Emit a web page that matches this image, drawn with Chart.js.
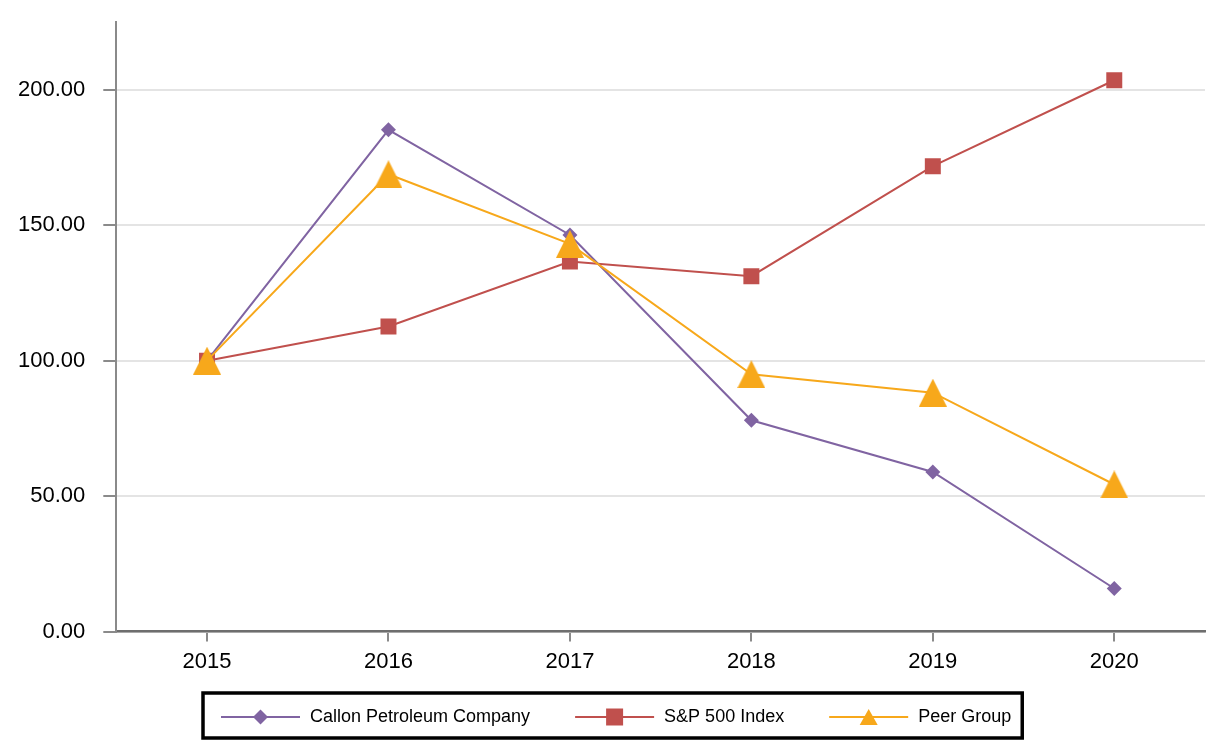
<!DOCTYPE html>
<html><head><meta charset="utf-8">
<script src="https://cdn.jsdelivr.net/npm/chart.js@4.4.0/dist/chart.umd.min.js"></script>
<style>html,body{margin:0;padding:0;background:#fff}#wrap{width:1226px;height:756px}</style>
</head><body><div id="wrap"><canvas id="c" width="1226" height="756"></canvas></div>
<script>
// ---- data ----
const years = ['2015', '2016', '2017', '2018', '2019', '2020'];
const callon = [100, 185.2, 146.4, 78.0, 58.9, 15.9];
const sp500 = [100, 112.6, 136.6, 131.2, 171.8, 203.5];
const peer = [100, 168.8, 143.1, 95.0, 88.2, 54.3];
const seriesNames = ['Callon Petroleum Company', 'S&P 500 Index', 'Peer Group'];
const yMin = 0, yMax = 225, yStep = 50;

// ---- styles ----
const FONT = '"Liberation Sans", Arial, Helvetica, sans-serif';
const colors = ['#8064A2', '#C0504D', '#F7A81B'];

function triangleImage(w, h, color) {
  const cv = document.createElement('canvas');
  cv.width = w; cv.height = h;
  const g = cv.getContext('2d');
  g.fillStyle = color;
  g.beginPath();
  g.moveTo(w / 2, 0); g.lineTo(w, h); g.lineTo(0, h); g.closePath();
  g.fill();
  return cv;
}
const triImg = triangleImage(28, 28, colors[2]);

const legendPlugin = {
  id: 'boxLegend',
  afterDraw(chart) {
    const ctx = chart.ctx;
    const top = 693, h = 45, cy = top + h / 2 + 1.5;
    const lineLen = 79, textGap = 10, itemGap = 45, padL = 18, padR = 11;
    ctx.save();
    ctx.font = '18px ' + FONT;
    const ds = chart.data.datasets;
    const widths = ds.map(d => lineLen + textGap + ctx.measureText(d.label).width);
    const total = padL + padR + widths.reduce((a, b) => a + b, 0) + itemGap * (ds.length - 1);
    const left = 203;
    ctx.lineWidth = 3.5;
    ctx.strokeStyle = '#000';
    ctx.strokeRect(left, top, total, h);
    let x = left + padL;
    ds.forEach((d, i) => {
      ctx.strokeStyle = d.borderColor;
      ctx.lineWidth = 2;
      ctx.beginPath();
      ctx.moveTo(x, cy); ctx.lineTo(x + lineLen, cy); ctx.stroke();
      const mx = x + lineLen / 2;
      ctx.fillStyle = d.borderColor;
      ctx.beginPath();
      if (i === 0) {
        ctx.moveTo(mx, cy - 7.5); ctx.lineTo(mx + 7.5, cy); ctx.lineTo(mx, cy + 7.5); ctx.lineTo(mx - 7.5, cy);
      } else if (i === 1) {
        ctx.rect(mx - 8.5, cy - 8.5, 17, 17);
      } else {
        ctx.moveTo(mx, cy - 8); ctx.lineTo(mx + 9, cy + 8); ctx.lineTo(mx - 9, cy + 8);
      }
      ctx.closePath();
      ctx.fill();
      ctx.fillStyle = '#000';
      ctx.textBaseline = 'middle';
      ctx.textAlign = 'left';
      ctx.fillText(d.label, x + lineLen + textGap, cy);
      x += widths[i] + itemGap;
    });
    ctx.restore();
  }
};

new Chart(document.getElementById('c'), {
  type: 'line',
  data: {
    labels: years,
    datasets: [
      { label: seriesNames[0], data: callon, borderColor: colors[0], backgroundColor: colors[0],
        borderWidth: 2, pointStyle: 'rectRot', pointRadius: 7.5, pointBorderWidth: 0, order: 2, tension: 0 },
      { label: seriesNames[1], data: sp500, borderColor: colors[1], backgroundColor: colors[1],
        borderWidth: 2, pointStyle: 'rect', pointRadius: 11.3, pointBorderWidth: 0, order: 3, tension: 0 },
      { label: seriesNames[2], data: peer, borderColor: colors[2], backgroundColor: colors[2],
        borderWidth: 2, pointStyle: triImg, pointRadius: 14, pointBorderWidth: 0, order: 1, tension: 0 }
    ]
  },
  options: {
    responsive: false,
    animation: false,
    layout: { padding: { left: 0, right: 21, top: 22, bottom: 74 } },
    plugins: { legend: { display: false }, tooltip: { enabled: false } },
    scales: {
      x: {
        offset: true,
        ticks: { padding: 7, color: '#000', font: { family: FONT, size: 22 } },
        grid: { offset: false, drawOnChartArea: false, tickLength: 10, color: '#8a8a8a', lineWidth: 2 },
        border: { color: '#6e6e6e', width: 2.5 }
      },
      y: {
        min: yMin, max: yMax,
        ticks: { stepSize: yStep, includeBounds: false, padding: 18, color: '#000',
                 font: { family: FONT, size: 22 }, callback: v => Number(v).toFixed(2) },
        grid: { color: '#e4e4e4', lineWidth: 2, tickColor: '#8a8a8a', tickLength: 13, tickWidth: 2 },
        border: { color: '#8a8a8a', width: 2 },
        afterFit(scale) { scale.paddingTop = 0; scale.paddingBottom = 0; }
      }
    }
  },
  plugins: [legendPlugin]
});
</script>
</body></html>
